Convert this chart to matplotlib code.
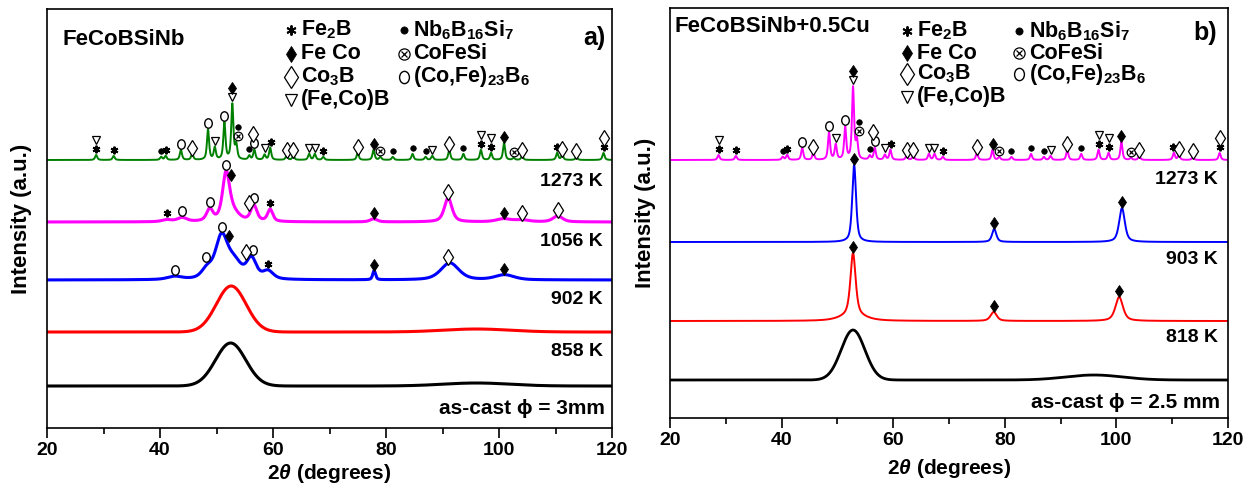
import numpy as np
import matplotlib
matplotlib.use("Agg")
import matplotlib.pyplot as plt
from matplotlib.path import Path
from matplotlib.transforms import Affine2D

plt.rcParams['font.family'] = ['Liberation Sans', 'DejaVu Sans']
plt.rcParams['font.weight'] = 'bold'
plt.rcParams['mathtext.fontset'] = 'custom'
plt.rcParams['mathtext.rm'] = 'Liberation Sans:bold'
plt.rcParams['mathtext.bf'] = 'Liberation Sans:bold'
plt.rcParams['mathtext.it'] = 'Liberation Sans:italic:bold'

#2theta grid
two_theta = np.linspace(20, 120, 5001)

#---------------- a) FeCoBSiNb ----------------
#peak lists: position (deg), height (a.u.), fwhm (deg)
a_cast_pos = [52.5, 96.0]
a_cast_hgt = [43, 3]
a_cast_fwhm = [6.3, 14]

a_858_pos = [52.6, 96.0]
a_858_hgt = [46, 3]
a_858_fwhm = [6.2, 14]

a_902_pos = [42.6, 48.3, 50.9, 53.2, 56.2, 59.1, 77.9, 91.3, 101.0]
a_902_hgt = [3, 9, 42, 16, 20, 8, 9, 17, 5]
a_902_fwhm = [3.0, 2.2, 2.6, 3.0, 2.0, 2.2, 0.6, 3.8, 4.0]

a_1056_pos = [41.2, 43.9, 48.8, 51.7, 53.0, 56.6, 59.5, 77.8, 91.0, 100.8, 104.0, 110.4]
a_1056_hgt = [2, 4, 12, 47, 8, 16, 12, 3, 24, 3, 2, 6]
a_1056_fwhm = [2.0, 2.0, 1.3, 1.5, 2.5, 1.3, 1.1, 1.5, 1.6, 3.0, 3.0, 2.0]

x1273_pos = [28.7, 31.8, 40.2, 41.0, 43.7, 45.7, 48.5, 49.7, 51.4, 52.8, 53.5,
             55.8, 56.7, 58.5, 59.5, 62.4, 63.6, 66.4, 67.4, 68.9, 75.0, 77.8,
             79.0, 81.2, 84.7, 87.0, 88.2, 91.2, 93.7, 96.8, 98.6, 100.9,
             102.6, 104.1, 110.3, 111.2, 113.7, 118.5]
a_1273_hgt = [5, 4, 3, 4, 10, 6, 30, 12, 37, 55, 14,
              4, 10, 5, 12, 4, 4, 6, 6, 3, 7, 10,
              3, 3, 6, 3, 4, 10, 6, 10, 7, 17,
              2, 4, 7, 5, 3, 7]
b_1273_hgt = [5, 4, 3, 5, 12, 7, 27, 15, 32, 72, 18,
              4, 12, 5, 10, 4, 4, 6, 6, 3, 7, 10,
              3, 3, 6, 3, 4, 10, 6, 10, 7, 18,
              2, 4, 7, 5, 3, 7]

#---------------- b) FeCoBSiNb+0.5Cu ----------------
b_cast_pos = [52.8, 96.0]
b_cast_hgt = [50, 5]
b_cast_fwhm = [5.0, 12]

b_818_pos = [52.8, 52.8, 78.0, 100.5]
b_818_hgt = [62, 6, 9, 24]
b_818_fwhm = [1.1, 5.0, 1.3, 1.6]

b_903_pos = [53.0, 78.1, 101.0]
b_903_hgt = [77, 13, 34]
b_903_fwhm = [0.8, 0.9, 1.2]

#phase marker positions, 1273 K patterns
m1273 = {
    'fe2b':   [28.7, 31.8, 41.0, 59.6, 68.9, 96.8, 98.6, 110.2, 118.5],
    'cofesi': [53.8, 79.0, 102.6],
    'nb':     [40.2, 53.8, 55.8, 81.2, 84.7, 87.0, 93.7],
    'cofe23': [43.7, 48.5, 51.4, 56.7],
    'co3b':   [45.7, 56.4, 62.4, 63.6, 75.0, 91.2, 104.1, 111.2, 113.7, 118.5],
    'fecob':  [28.7, 49.7, 52.8, 58.5, 66.4, 67.4, 88.2, 96.8, 98.6],
    'feco':   [52.8, 77.8, 100.9],
}
m_a1056 = {
    'fe2b':   [41.2, 59.5],
    'cofe23': [43.9, 48.8, 51.6, 56.6],
    'co3b':   [55.7, 91.0, 104.0, 110.4],
    'feco':   [52.6, 77.8, 100.8],
}
m_a902 = {
    'fe2b':   [59.1],
    'cofe23': [42.6, 48.2, 51.0, 56.4],
    'co3b':   [55.3, 91.0],
    'feco':   [52.3, 77.9, 100.8],
}
m_b903 = {'feco': [53.0, 78.1, 101.0]}
m_b818 = {'feco': [52.8, 78.0, 100.5]}

#marker styles for each phase
oval = Path.unit_circle().transformed(Affine2D().scale(0.8, 1.0))
styles = {
    'fe2b':   dict(marker=(6, 2, 0), ms=5.5, mew=1.4, mec='k', mfc='k'),
    'feco':   dict(marker='d', ms=6.2, mew=0.6, mec='k', mfc='k'),
    'co3b':   dict(marker='d', ms=8.5, mew=0.9, mec='k', mfc='white'),
    'fecob':  dict(marker='v', ms=6.2, mew=0.9, mec='k', mfc='white'),
    'nb':     dict(marker='o', ms=4.0, mew=0.5, mec='k', mfc='k'),
    'cofesi': dict(marker='o', ms=6.2, mew=0.9, mec='k', mfc='white'),
    'cofe23': dict(marker=oval, ms=6.8, mew=1.0, mec='k', mfc='white'),
}
order = ['fe2b', 'cofesi', 'nb', 'cofe23', 'co3b', 'fecob', 'feco']


def pattern(pos, hgt, fwhm, eta):
    y = np.zeros_like(two_theta)
    for p, h, w in zip(pos, hgt, fwhm):
        d = (two_theta - p) / (w / 2)
        lor = 1 / (1 + d**2)
        gau = np.exp(-np.log(2) * d**2)
        y += h * (eta * lor + (1 - eta) * gau)
    return y


def draw_marker(ax, x, y, key, scale=1.0, transform=None):
    st = dict(styles[key])
    st['ms'] = st['ms'] * scale
    tr = transform if transform is not None else ax.transData
    ax.plot([x], [y], linestyle='none', zorder=5, clip_on=False, transform=tr, **st)
    if key == 'cofesi':
        ax.plot([x], [y], linestyle='none', marker='x', ms=st['ms']*0.55,
                mew=0.9, color='k', zorder=6, clip_on=False, transform=tr)


def mark_peaks(ax, y, markers, pad=6, step=9):
    placed = []
    for key in order:
        for xm in markers.get(key, []):
            win = (two_theta > xm - 0.45) & (two_theta < xm + 0.45)
            ym = y[win].max() + pad
            moved = True
            while moved:
                moved = False
                for px, py in placed:
                    if abs(px - xm) < 0.7 and abs(py - ym) < step:
                        ym = py + step
                        moved = True
            placed.append((xm, ym))
            draw_marker(ax, xm, ym, key)


def legend_block(ax, x1, x2, rows):
    col1 = [('fe2b', r'Fe$_2$B'), ('feco', 'Fe Co'), ('co3b', r'Co$_3$B'), ('fecob', '(Fe,Co)B')]
    col2 = [('nb', r'Nb$_6$B$_{16}$Si$_7$'), ('cofesi', 'CoFeSi'), ('cofe23', r'(Co,Fe)$_{23}$B$_6$')]
    for xc, col in [(x1, col1), (x2, col2)]:
        for (key, label), yr in zip(col, rows):
            draw_marker(ax, xc, yr, key, scale=1.3, transform=ax.transAxes)
            ax.text(xc + 0.017, yr, label, transform=ax.transAxes, fontsize=15.5,
                    ha='left', va='center')


def style_axes(ax, ytop):
    ax.set_xlim(20, 120)
    ax.set_ylim(0, ytop)
    ax.set_yticks([])
    ax.set_xticks(np.arange(20, 121, 20))
    ax.set_xticks(np.arange(30, 120, 20), minor=True)
    ax.tick_params(axis='x', which='major', direction='out', length=7, width=1.2,
                   labelsize=14, pad=3)
    ax.tick_params(axis='x', which='minor', direction='out', length=4, width=1.2)
    for lab in ax.get_xticklabels():
        lab.set_fontweight('bold')
    for sp in ax.spines.values():
        sp.set_linewidth(1.2)


fig = plt.figure(figsize=(12.49, 4.93), dpi=100)
axa = fig.add_axes([47/1249, 65/493, 565/1249, 419/493])
axb = fig.add_axes([670/1249, 75/493, 558/1249, 410/493])

#panel a curves, stacked with offsets
ya_cast = 42 + pattern(a_cast_pos, a_cast_hgt, a_cast_fwhm, 0.0)
ya_858 = 96 + pattern(a_858_pos, a_858_hgt, a_858_fwhm, 0.0)
ya_902 = 148 + pattern(a_902_pos, a_902_hgt, a_902_fwhm, 0.5)
ya_1056 = 206 + pattern(a_1056_pos, a_1056_hgt, a_1056_fwhm, 0.6)
ya_1273 = 268 + pattern(x1273_pos, a_1273_hgt, [0.45]*len(x1273_pos), 0.7)

axa.plot(two_theta, ya_cast, color='black', lw=2.2)
axa.plot(two_theta, ya_858, color='red', lw=2.2)
axa.plot(two_theta, ya_902, color='blue', lw=2.2)
axa.plot(two_theta, ya_1056, color='magenta', lw=2.2)
axa.plot(two_theta, ya_1273, color='green', lw=1.4)

mark_peaks(axa, ya_1273, m1273)
mark_peaks(axa, ya_1056, m_a1056)
mark_peaks(axa, ya_902, m_a902)

axa.text(118.4, 246, '1273 K', fontsize=14, ha='right', va='center')
axa.text(118.4, 186, '1056 K', fontsize=14, ha='right', va='center')
axa.text(118.4, 128, '902 K', fontsize=14, ha='right', va='center')
axa.text(118.4, 76, '858 K', fontsize=14, ha='right', va='center')
axa.text(118.8, 19, 'as-cast \u03d5 = 3mm', fontsize=15, ha='right', va='center')

axa.text(0.027, 0.928, 'FeCoBSiNb', transform=axa.transAxes, fontsize=16, va='center')
axa.text(0.988, 0.931, 'a)', transform=axa.transAxes, fontsize=18, ha='right', va='center')
legend_block(axa, 0.432, 0.631, [0.950, 0.893, 0.838, 0.783])
style_axes(axa, 419)

#panel b curves
yb_cast = 38 + pattern(b_cast_pos, b_cast_hgt, b_cast_fwhm, 0.0)
yb_818 = 97 + pattern(b_818_pos, b_818_hgt, b_818_fwhm, 0.6)
yb_903 = 176 + pattern(b_903_pos, b_903_hgt, b_903_fwhm, 0.6)
yb_1273 = 258 + pattern(x1273_pos, b_1273_hgt, [0.45]*len(x1273_pos), 0.7)

axb.plot(two_theta, yb_cast, color='black', lw=2.0)
axb.plot(two_theta, yb_818, color='red', lw=1.4)
axb.plot(two_theta, yb_903, color='blue', lw=1.4)
axb.plot(two_theta, yb_1273, color='magenta', lw=1.4)

mark_peaks(axb, yb_1273, m1273)
mark_peaks(axb, yb_903, m_b903)
mark_peaks(axb, yb_818, m_b818)

axb.text(118.2, 238, '1273 K', fontsize=14, ha='right', va='center')
axb.text(118.2, 158, '903 K', fontsize=14, ha='right', va='center')
axb.text(118.2, 80, '818 K', fontsize=14, ha='right', va='center')
axb.text(118.6, 15, 'as-cast \u03d5 = 2.5 mm', fontsize=15, ha='right', va='center')

axb.text(0.008, 0.956, 'FeCoBSiNb+0.5Cu', transform=axb.transAxes, fontsize=16, va='center')
axb.text(0.98, 0.939, 'b)', transform=axb.transAxes, fontsize=18, ha='right', va='center')
legend_block(axb, 0.425, 0.626, [0.944, 0.890, 0.839, 0.783])
style_axes(axb, 410)

for ax, xl, lp in [(axa, 22, 2), (axb, 645, 6)]:
    ax.set_xlabel(r'$\mathit{2\theta}$ (degrees)', fontsize=15, fontweight='bold', labelpad=lp)
    pos = ax.get_position()
    fig.text(xl/1249, pos.y0 + pos.height/2, 'Intensity (a.u.)', rotation=90,
             fontsize=16, ha='center', va='center')

fig.savefig('out.png', dpi=100)
